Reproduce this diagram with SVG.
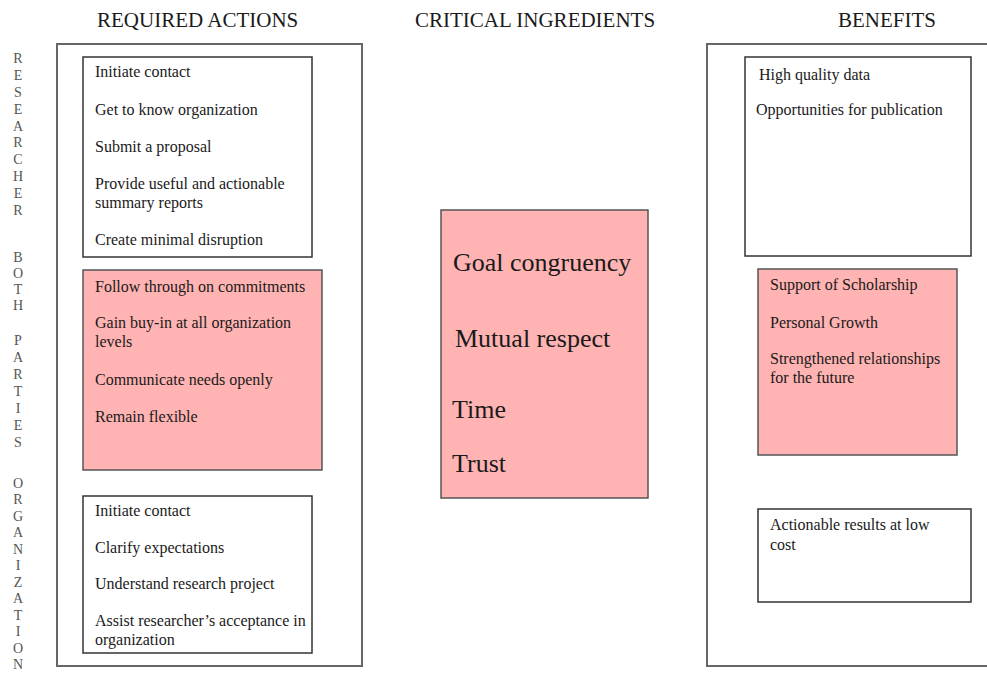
<svg xmlns="http://www.w3.org/2000/svg" width="987" height="673" viewBox="0 0 987 673">
<style>
  text { font-family: "Liberation Serif", "Times New Roman", serif; fill: #1a1a1a; }
  .hd { font-size: 21px; }
  .t { font-size: 16px; }
  .big { font-size: 26px; }
  .v { font-size: 14px; fill: #555; text-anchor: middle; }
  .outer { fill: #fff; stroke: #666; stroke-width: 2; }
  .box { fill: #fff; stroke: #333; stroke-width: 1.5; }
  .pink { fill: #ffb3b3; stroke: #555; stroke-width: 1.5; }
</style>
<rect width="987" height="673" fill="#fff"/>

<g id="headings">
  <text class="hd" x="97" y="27">REQUIRED ACTIONS</text>
  <text class="hd" x="415" y="27">CRITICAL INGREDIENTS</text>
  <text class="hd" x="838" y="27">BENEFITS</text>
</g>

<g id="side-labels">
  <text class="v" x="18" y="63">R</text>
  <text class="v" x="18" y="80">E</text>
  <text class="v" x="18" y="97">S</text>
  <text class="v" x="18" y="114">E</text>
  <text class="v" x="18" y="131">A</text>
  <text class="v" x="18" y="147">R</text>
  <text class="v" x="18" y="164">C</text>
  <text class="v" x="18" y="181">H</text>
  <text class="v" x="18" y="198">E</text>
  <text class="v" x="18" y="215">R</text>

  <text class="v" x="18" y="262">B</text>
  <text class="v" x="18" y="278">O</text>
  <text class="v" x="18" y="294">T</text>
  <text class="v" x="18" y="310">H</text>

  <text class="v" x="18" y="345">P</text>
  <text class="v" x="18" y="362">A</text>
  <text class="v" x="18" y="379">R</text>
  <text class="v" x="18" y="396">T</text>
  <text class="v" x="18" y="413">I</text>
  <text class="v" x="18" y="430">E</text>
  <text class="v" x="18" y="447">S</text>

  <text class="v" x="18" y="488">O</text>
  <text class="v" x="18" y="504">R</text>
  <text class="v" x="18" y="521">G</text>
  <text class="v" x="18" y="537">A</text>
  <text class="v" x="18" y="554">N</text>
  <text class="v" x="18" y="570">I</text>
  <text class="v" x="18" y="587">Z</text>
  <text class="v" x="18" y="603">A</text>
  <text class="v" x="18" y="620">T</text>
  <text class="v" x="18" y="636">I</text>
  <text class="v" x="18" y="653">O</text>
  <text class="v" x="18" y="669">N</text>
</g>

<g id="required-actions">
  <rect class="outer" x="57" y="44" width="305" height="622"/>
</g>

<g id="researcher-actions">
  <rect class="box" x="83" y="57" width="229" height="200"/>
  <text class="t" x="95" y="77">Initiate contact</text>
  <text class="t" x="95" y="115">Get to know organization</text>
  <text class="t" x="95" y="152">Submit a proposal</text>
  <text class="t" x="95" y="189">Provide useful and actionable</text>
  <text class="t" x="95" y="208">summary reports</text>
  <text class="t" x="95" y="245">Create minimal disruption</text>
</g>

<g id="both-actions">
  <rect class="pink" x="83" y="270" width="239" height="200"/>
  <text class="t" x="95" y="292">Follow through on commitments</text>
  <text class="t" x="95" y="328">Gain buy-in at all organization</text>
  <text class="t" x="95" y="347">levels</text>
  <text class="t" x="95" y="385">Communicate needs openly</text>
  <text class="t" x="95" y="422">Remain flexible</text>
</g>

<g id="organization-actions">
  <rect class="box" x="83" y="496" width="229" height="157"/>
  <text class="t" x="95" y="516">Initiate contact</text>
  <text class="t" x="95" y="553">Clarify expectations</text>
  <text class="t" x="95" y="589">Understand research project</text>
  <text class="t" x="95" y="626">Assist researcher’s acceptance in</text>
  <text class="t" x="95" y="645">organization</text>
</g>

<g id="critical-ingredients">
  <rect class="pink" x="441" y="210" width="207" height="288"/>
  <text class="big" x="453" y="271">Goal congruency</text>
  <text class="big" x="455" y="347">Mutual respect</text>
  <text class="big" x="452" y="418">Time</text>
  <text class="big" x="452" y="472">Trust</text>
</g>

<g id="benefits">
  <rect class="outer" x="707" y="44" width="290" height="622"/>
</g>

<g id="researcher-benefits">
  <rect class="box" x="745" y="57" width="226" height="199"/>
  <text class="t" x="759" y="80">High quality data</text>
  <text class="t" x="756" y="115">Opportunities for publication</text>
</g>

<g id="both-benefits">
  <rect class="pink" x="758" y="269" width="199" height="186"/>
  <text class="t" x="770" y="290">Support of Scholarship</text>
  <text class="t" x="770" y="328">Personal Growth</text>
  <text class="t" x="770" y="364">Strengthened relationships</text>
  <text class="t" x="770" y="383">for the future</text>
</g>

<g id="organization-benefits">
  <rect class="box" x="758" y="509" width="213" height="93"/>
  <text class="t" x="770" y="530">Actionable results at low</text>
  <text class="t" x="770" y="550">cost</text>
</g>

<g id="connectors"></g>
</svg>
